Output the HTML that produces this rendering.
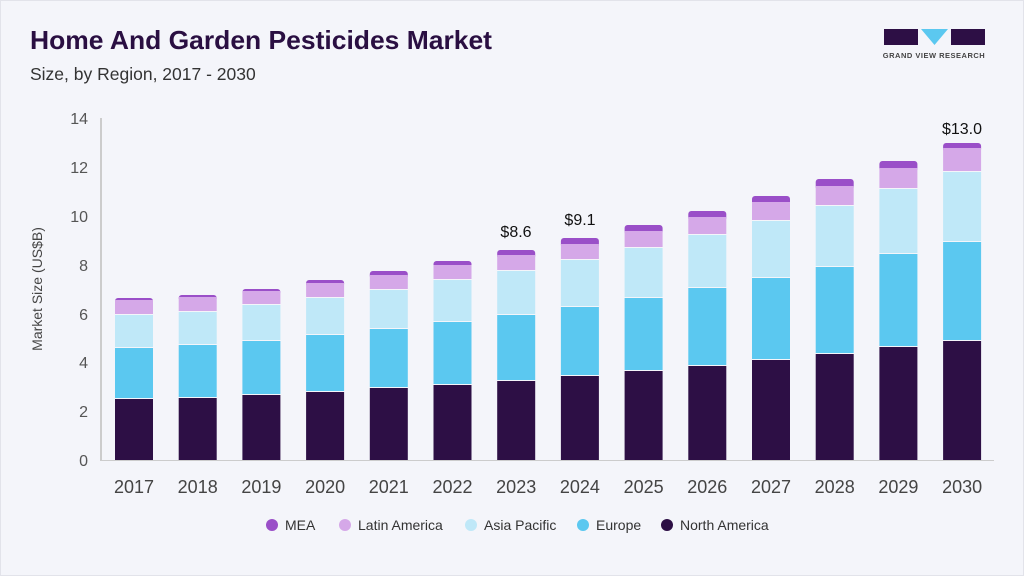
<!DOCTYPE html>
<html><head><meta charset="utf-8"><style>
body{margin:0;background:#f4f5fa;}
svg{display:block;font-family:"Liberation Sans",sans-serif;}
</style></head><body>
<svg width="1024" height="576" viewBox="0 0 1024 576">
<rect x="0" y="0" width="1024" height="576" fill="#f4f5fa"/>
<rect x="0.5" y="0.5" width="1023" height="575" fill="none" stroke="#e2e3ea"/>
<text x="30" y="49" font-size="26" font-weight="bold" fill="#2a0f42" textLength="462" lengthAdjust="spacingAndGlyphs">Home And Garden Pesticides Market</text>
<text x="30" y="80" font-size="17.5" fill="#333">Size, by Region, 2017 - 2030</text>
<!-- logo -->
<rect x="884" y="29" width="34" height="16" fill="#2d0f45"/>
<polygon points="921,29 948,29 934.5,45" fill="#5bc8f0"/>
<rect x="951" y="29" width="34" height="16" fill="#2d0f45"/>
<text x="934" y="58" font-size="7.5" font-weight="bold" fill="#444" text-anchor="middle" letter-spacing="0.5">GRAND VIEW RESEARCH</text>
<!-- axis -->
<line x1="101" y1="118" x2="101" y2="461" stroke="#ccc" stroke-width="2"/>
<line x1="101" y1="460.5" x2="994" y2="460.5" stroke="#ccc"/>
<g font-size="16" fill="#555" text-anchor="end">
<text x="88" y="466">0</text><text x="88" y="417">2</text><text x="88" y="368">4</text>
<text x="88" y="320">6</text><text x="88" y="271">8</text><text x="88" y="222">10</text>
<text x="88" y="173">12</text><text x="88" y="124">14</text>
</g>
<text transform="translate(42,289) rotate(-90)" font-size="14" fill="#444" text-anchor="middle">Market Size (US$B)</text>
<g id="bars"></g>
<g font-size="18" fill="#444" text-anchor="middle" id="xl"></g>
<g font-size="16" fill="#111" text-anchor="middle">
<text x="516" y="237">$8.6</text>
<text x="580" y="225">$9.1</text>
<text x="962" y="134">$13.0</text>
</g>
<!-- legend -->
<g font-size="14" fill="#333">
<circle cx="272" cy="525" r="6" fill="#9a4fc8"/><text x="285" y="530">MEA</text>
<circle cx="345" cy="525" r="6" fill="#d5a8e8"/><text x="358" y="530">Latin America</text>
<circle cx="471" cy="525" r="6" fill="#bfe8f8"/><text x="484" y="530">Asia Pacific</text>
<circle cx="583" cy="525" r="6" fill="#5bc8f0"/><text x="596" y="530">Europe</text>
<circle cx="667" cy="525" r="6" fill="#2d0f45"/><text x="680" y="530">North America</text>
</g>
</svg>
<script>
var d=[[399,348,315,300,298],[398,345,312,297,295],[395,341,305,291,289],[392,335,298,283,280],[388,329,290,275,271],[385,322,280,265,261],[381,315,271,255,250],[376,307,260,244,238],[371,298,248,231,225],[366,288,235,217,211],[360,278,221,202,196],[354,267,206,186,179],[347,254,189,168,161],[341,242,172,148,143]];
var ns="http://www.w3.org/2000/svg",g=document.getElementById('bars'),xl=document.getElementById('xl');
function r(x,y,w,h,f,rx){var e=document.createElementNS(ns,'rect');e.setAttribute('x',x);e.setAttribute('y',y);e.setAttribute('width',w);e.setAttribute('height',Math.max(h,0));e.setAttribute('fill',f);if(rx)e.setAttribute('rx',rx);g.appendChild(e);}
d.forEach(function(v,i){var c=134+i*63.7,x=c-19,w=38;
r(x,v[4],w,v[3]-v[4]+4,'#9a4fc8',3);
r(x,v[3],w,v[2]-v[3]-1,'#d5a8e8');
r(x,v[2],w,v[1]-v[2]-1,'#bfe8f8');
r(x,v[1],w,v[0]-v[1]-1,'#5bc8f0');
r(x,v[0],w,460-v[0],'#2d0f45');
var t=document.createElementNS(ns,'text');t.setAttribute('x',c);t.setAttribute('y',493);t.textContent=2017+i;xl.appendChild(t);});
</script>
</body></html>
